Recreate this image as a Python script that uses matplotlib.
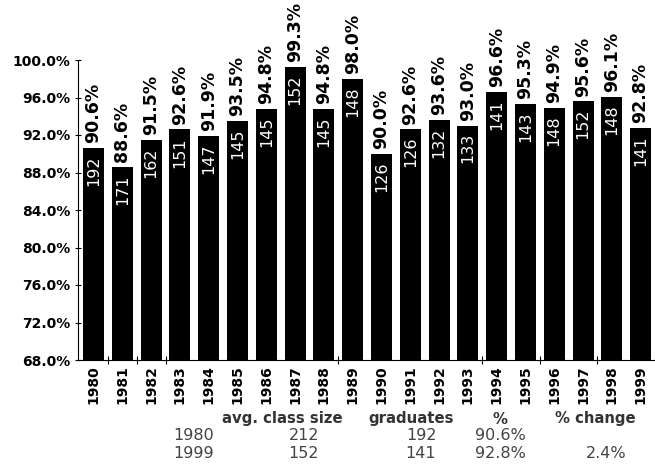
import numpy as np
import matplotlib.pyplot as plt

years = ['1980', '1981', '1982', '1983', '1984', '1985', '1986', '1987', '1988', '1989',
         '1990', '1991', '1992', '1993', '1994', '1995', '1996', '1997', '1998', '1999']
pct = [90.6, 88.6, 91.5, 92.6, 91.9, 93.5, 94.8, 99.3, 94.8, 98.0,
       90.0, 92.6, 93.6, 93.0, 96.6, 95.3, 94.9, 95.6, 96.1, 92.8]
grads = [192, 171, 162, 151, 147, 145, 145, 152, 145, 148,
         126, 126, 132, 133, 141, 143, 148, 152, 148, 141]
yticks = [68, 72, 76, 80, 84, 88, 92, 96, 100]
# the odd x tick marks seen between some bars
xtick_gaps = [0.5, 1.5, 2.5, 8.5, 13.5, 15.5, 17.5]

table_head = ['avg. class size', 'graduates', '%', '% change']
table_rows = [['1980', '212', '192', '90.6%', ''],
              ['1999', '152', '141', '92.8%', '2.4%']]

fig = plt.figure(figsize=(6.55, 4.71), dpi=100)
ax = fig.add_axes([78 / 655, 111 / 471, 577 / 655, 300 / 471])

x = np.arange(len(years))
ax.bar(x, [p - 68 for p in pct], bottom=68, width=0.73, color='black')
ax.set_ylim(68, 100)
ax.set_xlim(-0.54, 19.5)
ax.set_yticks(yticks)
ax.set_yticklabels(['%.1f%%' % t for t in yticks], fontweight='bold', fontsize=10)
ax.set_xticks(xtick_gaps)
ax.set_xticklabels([])
ax.tick_params(axis='x', length=6, direction='inout', width=0.8)
ax.tick_params(axis='y', length=5, direction='inout', pad=3, width=0.8)
for s in ['top', 'right']:
    ax.spines[s].set_visible(False)

for i in range(len(years)):
    ax.text(x[i], 67.4, years[i], rotation=90, ha='center', va='top',
            fontsize=10, fontweight='bold', clip_on=False)
    ax.text(x[i], pct[i] + 0.5, '%.1f%%' % pct[i], rotation=90, ha='center', va='bottom',
            fontsize=12.5, fontweight='bold', clip_on=False)
    ax.text(x[i], pct[i] - 0.8, str(grads[i]), rotation=90, ha='center', va='top',
            fontsize=11.5, color='white')

# summary table under the chart
col_x = [282, 411, 500, 595]
for h, cx in zip(table_head, col_x):
    fig.text(cx / 655, 1 - 419 / 471, h, ha='center', va='center',
             fontsize=10.7, fontweight='bold', color='#333333')
row_x = [194, 304, 421, 500, 606]
for r, ry in zip(table_rows, [436, 454]):
    for v, cx in zip(r, row_x):
        fig.text(cx / 655, 1 - ry / 471, v, ha='center', va='center',
                 fontsize=11.5, color='#444444')

fig.savefig('out.png', dpi=100)
